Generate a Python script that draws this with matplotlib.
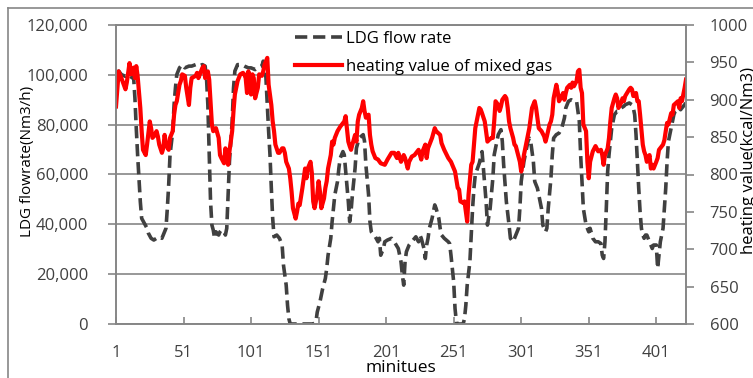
import matplotlib
matplotlib.use("Agg")
import matplotlib.pyplot as plt
from matplotlib.lines import Line2D

plt.rcParams["font.family"] = ["Open Sans", "DejaVu Sans"]

# ----------------------------------------------------------------------------
# Data
# ----------------------------------------------------------------------------
# LDG flow rate [Nm3/h], left axis, in thousands
ldg_min = [1, 3, 5, 8, 10, 13, 14, 15, 16, 17, 18, 19, 20, 22, 24, 25, 27, 29, 31, 33,
           35, 36, 38, 39, 40, 41, 43, 44, 45, 46, 48, 50, 52, 55, 57, 60, 62, 65, 67, 68,
           69, 70, 71, 72, 73, 74, 75, 77, 78, 79, 81, 82, 83, 84, 85, 87, 88, 89, 90, 91,
           94, 96, 99, 101, 104, 106, 109, 110, 111, 112, 113, 114, 115, 116, 117, 118, 120, 122, 124, 125,
           127, 128, 129, 130, 132, 137, 142, 147, 149, 150, 152, 154, 156, 157, 158, 160, 161, 162, 163, 165,
           166, 167, 168, 169, 170, 173, 174, 175, 176, 178, 179, 181, 184, 185, 186, 188, 189, 190, 193, 195,
           196, 197, 199, 200, 202, 205, 207, 210, 211, 212, 213, 214, 215, 216, 218, 220, 223, 225, 226, 227,
           229, 230, 231, 232, 233, 235, 236, 237, 238, 240, 241, 242, 244, 247, 248, 249, 251, 252, 253, 254,
           257, 258, 259, 260, 261, 263, 264, 265, 266, 267, 270, 272, 273, 275, 276, 278, 280, 281, 284, 286,
           287, 288, 290, 292, 293, 295, 297, 299, 300, 301, 303, 305, 306, 307, 308, 310, 311, 313, 314, 316,
           317, 319, 320, 321, 323, 324, 325, 327, 329, 331, 333, 334, 336, 338, 340, 342, 344, 345, 346, 347,
           349, 351, 352, 354, 356, 358, 360, 361, 362, 363, 364, 365, 366, 368, 369, 370, 372, 373, 375, 377,
           378, 381, 383, 384, 385, 386, 387, 388, 389, 390, 391, 392, 393, 394, 396, 397, 398, 399, 401, 402,
           403, 404, 406, 407, 408, 409, 410, 412, 413, 414, 415, 418, 419, 420, 422, 423]
ldg_k = [100.8, 101.5, 100.1, 99.4, 100.1, 98.8, 99.4, 90.7, 78.6, 67.9, 58.5, 49.1, 42.4, 40.4, 38.4, 36.4, 34.4, 33.7, 34.4, 35.0,
         34.4, 35.7, 38.4, 46.4, 55.8, 67.9, 77.3, 88.0, 94.7, 100.1, 102.8, 104.1, 102.8, 103.5, 103.5, 104.1, 103.5, 104.1, 103.5, 98.8,
         88.0, 67.9, 49.1, 39.7, 37.7, 34.4, 37.0, 35.7, 37.0, 37.7, 37.0, 35.7, 38.4, 51.8, 65.2, 81.3, 94.7, 101.5, 102.8, 104.1,
         104.1, 103.5, 102.8, 102.8, 102.1, 102.8, 103.5, 105.5, 104.1, 98.8, 88.0, 77.3, 67.9, 54.5, 42.4, 35.0, 35.7, 34.4, 31.7, 23.6,
         15.6, 7.5, 2.1, 0.0, 0.0, 0.0, 0.0, 0.0, 0.8, 4.8, 8.9, 14.2, 18.3, 22.3, 27.6, 34.4, 41.1, 46.4, 51.8, 57.2,
         62.5, 66.6, 67.9, 69.2, 67.9, 49.1, 41.1, 45.1, 51.8, 62.5, 70.6, 74.6, 76.0, 73.3, 63.9, 51.8, 41.1, 37.0, 35.0, 33.0,
         34.4, 27.6, 30.3, 33.0, 33.7, 34.4, 33.0, 30.3, 27.6, 25.0, 19.6, 15.6, 25.0, 29.0, 31.7, 33.0, 35.0, 33.0, 35.7, 34.4,
         30.3, 26.3, 31.7, 34.4, 38.4, 42.4, 45.1, 47.8, 46.4, 42.4, 38.4, 35.7, 34.4, 33.0, 32.3, 27.6, 16.9, 6.2, 0.8, 0.0,
         0.0, 0.0, 2.1, 7.5, 15.6, 25.0, 35.7, 46.4, 54.5, 59.9, 64.6, 69.2, 62.5, 49.1, 39.7, 46.4, 58.5, 67.9, 76.0, 78.0,
         73.3, 63.9, 49.1, 39.7, 34.4, 33.0, 35.7, 38.4, 46.4, 57.2, 65.2, 70.6, 73.3, 74.6, 73.3, 65.2, 57.2, 54.5, 51.8, 46.4,
         39.7, 37.0, 38.4, 46.4, 58.5, 67.9, 74.6, 76.0, 76.6, 78.6, 82.7, 86.7, 89.4, 90.0, 89.4, 89.4, 81.3, 67.9, 57.2, 46.4,
         39.7, 37.0, 38.4, 34.4, 33.0, 33.0, 32.3, 27.6, 26.3, 33.0, 46.4, 61.2, 67.9, 78.6, 81.3, 84.0, 85.4, 85.4, 86.7, 87.4,
         88.0, 88.7, 88.0, 86.7, 84.0, 76.0, 65.2, 54.5, 45.1, 38.4, 35.7, 34.4, 35.7, 35.7, 33.0, 31.7, 30.3, 31.7, 31.7, 22.3,
         27.6, 33.0, 38.4, 46.4, 54.5, 65.2, 73.3, 78.6, 81.3, 84.0, 85.4, 86.7, 86.0, 86.7, 88.0, 88.7]
ldg_flow = [v * 1000 for v in ldg_k]

# heating value of mixed gas [kcal/Nm3], right axis
hv_min = [1, 3, 5, 8, 9, 11, 12, 14, 15, 16, 17, 19, 20, 21, 23, 24, 26, 27, 28, 30,
          31, 32, 33, 35, 36, 37, 38, 40, 41, 43, 44, 45, 46, 48, 49, 50, 52, 53, 55, 56,
          57, 60, 61, 62, 65, 66, 67, 69, 70, 71, 72, 73, 75, 77, 78, 79, 81, 82, 83, 84,
          85, 87, 88, 89, 91, 93, 95, 96, 97, 98, 99, 101, 102, 103, 104, 106, 107, 109, 110, 111,
          113, 114, 116, 117, 118, 119, 121, 122, 124, 125, 126, 127, 129, 130, 131, 132, 134, 135, 136, 137,
          139, 140, 141, 142, 143, 145, 146, 147, 148, 150, 151, 152, 153, 155, 156, 157, 158, 160, 161, 162,
          163, 165, 167, 170, 171, 173, 174, 175, 176, 178, 179, 180, 181, 183, 184, 185, 186, 188, 189, 190,
          191, 193, 195, 197, 200, 202, 205, 207, 209, 210, 212, 214, 215, 217, 218, 220, 222, 225, 227, 228,
          230, 231, 232, 235, 237, 238, 241, 242, 244, 247, 249, 252, 254, 255, 256, 258, 259, 261, 262, 264,
          265, 266, 267, 269, 270, 271, 272, 274, 275, 276, 277, 279, 280, 281, 282, 284, 285, 286, 287, 289,
          290, 291, 292, 293, 295, 296, 297, 298, 300, 301, 302, 303, 305, 306, 307, 308, 309, 311, 312, 313,
          314, 316, 318, 319, 320, 322, 323, 324, 325, 327, 328, 329, 331, 332, 333, 334, 335, 337, 338, 339,
          340, 342, 343, 344, 345, 346, 347, 349, 350, 351, 352, 354, 356, 358, 360, 361, 362, 363, 365, 366,
          367, 368, 370, 371, 372, 373, 375, 376, 377, 378, 381, 382, 383, 384, 386, 387, 388, 389, 391, 392,
          393, 394, 396, 397, 398, 399, 401, 402, 403, 406, 407, 408, 409, 410, 412, 413, 414, 417, 418, 419,
          420, 422, 423]
heating_value = [891, 938, 929, 914, 923, 949, 934, 943, 929, 945, 932, 889, 858, 833, 826, 840, 871, 862, 849, 853,
                 858, 851, 840, 829, 835, 853, 840, 833, 849, 858, 880, 893, 898, 920, 925, 934, 932, 916, 893, 916,
                 929, 932, 936, 929, 943, 945, 929, 938, 927, 898, 867, 858, 862, 849, 826, 822, 815, 835, 826, 813,
                 831, 858, 885, 907, 925, 934, 936, 934, 929, 909, 938, 907, 934, 929, 902, 916, 934, 932, 938, 947,
                 956, 920, 893, 871, 858, 840, 829, 829, 835, 835, 829, 817, 808, 795, 777, 755, 741, 750, 761, 759,
                 782, 795, 808, 795, 808, 817, 802, 764, 755, 773, 791, 777, 755, 768, 782, 791, 808, 826, 844, 840,
                 849, 858, 864, 871, 878, 844, 838, 833, 840, 853, 844, 871, 880, 889, 898, 885, 876, 880, 853, 840,
                 831, 822, 820, 815, 813, 820, 829, 829, 822, 829, 817, 826, 822, 808, 817, 824, 826, 833, 820, 831,
                 840, 822, 835, 849, 862, 858, 853, 842, 833, 822, 817, 804, 782, 780, 764, 762, 764, 737, 773, 813,
                 817, 840, 862, 880, 889, 887, 882, 871, 858, 844, 846, 849, 849, 871, 898, 893, 885, 891, 900, 905,
                 902, 889, 871, 862, 849, 840, 838, 831, 817, 804, 813, 826, 844, 853, 862, 876, 889, 898, 889, 876,
                 862, 858, 851, 844, 851, 867, 871, 880, 902, 920, 911, 898, 905, 909, 900, 909, 916, 920, 916, 923,
                 918, 925, 938, 940, 916, 909, 867, 858, 817, 795, 817, 831, 838, 831, 833, 826, 813, 826, 835, 849,
                 871, 889, 902, 907, 902, 889, 896, 902, 898, 905, 914, 916, 914, 905, 909, 898, 898, 880, 840, 831,
                 826, 817, 826, 808, 813, 808, 817, 822, 833, 840, 846, 858, 869, 867, 882, 880, 893, 898, 889, 902,
                 898, 916, 927]

x_ticks = [1, 51, 101, 151, 201, 251, 301, 351, 401]
left_ticks = [0, 20000, 40000, 60000, 80000, 100000, 120000]
right_ticks = [600, 650, 700, 750, 800, 850, 900, 950, 1000]

# ----------------------------------------------------------------------------
# Plot
# ----------------------------------------------------------------------------
W, H = 753, 378
fig = plt.figure(figsize=(W / 100, H / 100), dpi=100)
ax = fig.add_axes([116 / W, 1 - 324 / H, 570 / W, 299 / H])
ax2 = ax.twinx()

GRID = "#868686"
TXT = "#404040"

l1, = ax.plot(ldg_min, ldg_flow, color="#404040", lw=2.6, dashes=(3.4, 1.6),
              dash_capstyle="butt", label="LDG flow rate")
l2, = ax2.plot(hv_min, heating_value, color="#ff0000", lw=3.0, label="heating value of mixed gas")

ax.set_xlim(1, 423)
ax.set_ylim(0, 120000)
ax2.set_ylim(600, 1000)
ax.set_xticks(x_ticks)
ax.set_yticks(left_ticks)
ax.set_yticklabels([f"{v:,}" for v in left_ticks])
ax2.set_yticks(right_ticks)

ax.grid(axis="y", color=GRID, lw=1.2)
ax.set_axisbelow(True)
for a in (ax, ax2):
    for s in a.spines.values():
        s.set_color(GRID)
        s.set_linewidth(1.2)

ax.tick_params(axis="y", direction="out", length=6, width=1.2, color=GRID,
               labelsize=12, labelcolor=TXT, pad=14)
ax.tick_params(axis="x", direction="in", length=5, width=1.2, color=GRID,
               labelsize=12, labelcolor=TXT, pad=15)
ax2.tick_params(axis="y", direction="out", length=6, width=1.2, color=GRID,
                labelsize=12, labelcolor=TXT, pad=11)

fig.text(28 / W, 1 - 161 / H, "LDG flowrate(Nm3/h)", rotation=90, ha="center", va="center",
         fontsize=11, color="black")
fig.text(749 / W, 1 - 161 / H, "heating value(kcal/Nm3)", rotation=90, ha="center", va="center",
         fontsize=12, color="black")
fig.text(401 / W, 1 - 368 / H, "minitues", ha="center", va="center", fontsize=12.5, color="black")

ax2.legend([l1, l2], [l1.get_label(), l2.get_label()], loc="upper left",
           bbox_to_anchor=(295 / W, 1 - 31 / H), bbox_transform=fig.transFigure,
           frameon=False, fontsize=12, handlelength=2.8, handletextpad=0.25,
           labelspacing=0.7, borderpad=0, borderaxespad=0)

# chart-area border (cropped at right and bottom in the reference)
fig.add_artist(Line2D([8 / W, 8 / W], [0, 1 - 8 / H], color=GRID, lw=1.2))
fig.add_artist(Line2D([8 / W, 1], [1 - 8 / H, 1 - 8 / H], color=GRID, lw=1.2))

fig.savefig("out.png", dpi=100)
